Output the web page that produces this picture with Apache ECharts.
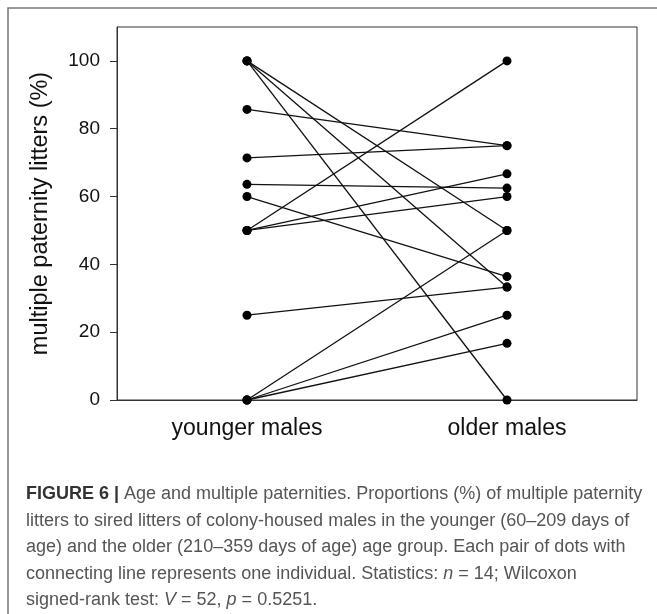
<!DOCTYPE html>
<html>
<head>
<meta charset="utf-8">
<script src="https://cdn.jsdelivr.net/npm/echarts@6/dist/echarts.min.js"></script>
<style>html,body{margin:0;padding:0;background:#fff;}#c{width:657px;height:614px;}</style>
</head>
<body>
<div id="c"></div>
<script>
// Data: each individual = one pair (younger value, older value)
const groups = ['younger males', 'older males'];
const groupPos = [1, 3];
const younger = [100, 100, 100, 85.7, 71.4, 63.6, 60, 50, 50, 50, 25, 0, 0, 0];
const older   = [50, 33.3, 0, 75, 75, 62.5, 36.4, 100, 66.7, 60, 33.3, 50, 25, 16.7];
const yTicks = [0, 20, 40, 60, 80, 100];

const chart = echarts.init(document.getElementById('c'), null, {renderer: 'canvas'});
const FONT = "'Liberation Sans', Arial, sans-serif";

const series = younger.map((y, i) => ({
  type: 'line',
  data: [[groupPos[0], y], [groupPos[1], older[i]]],
  symbol: 'circle',
  symbolSize: 9,
  itemStyle: {color: '#000'},
  lineStyle: {color: '#111', width: 1.3},
  animation: false,
  z: 3
}));

chart.setOption({
  animation: false,
  grid: {left: 117, top: 27, width: 520, height: 373, show: true, borderColor: '#333', borderWidth: 1, backgroundColor: 'transparent'},
  xAxis: {
    type: 'value', min: 0, max: 4,
    axisLine: {show: true, lineStyle: {color: '#333', width: 1}},
    axisTick: {show: false},
    splitLine: {show: false},
    axisLabel: {
      customValues: groupPos,
      formatter: v => groups[groupPos.indexOf(v)] || '',
      fontFamily: FONT, fontSize: 23, color: '#111', margin: 17
    }
  },
  yAxis: {
    type: 'value', min: 0, max: 110,
    name: 'multiple paternity litters (%)',
    nameLocation: 'middle', nameGap: 64,
    nameTextStyle: {fontFamily: FONT, fontSize: 23.5, color: '#111'},
    axisLine: {show: true, lineStyle: {color: '#333', width: 1}},
    axisTick: {show: true, inside: false, length: 7, customValues: yTicks, lineStyle: {color: '#333'}},
    splitLine: {show: false},
    axisLabel: {customValues: yTicks, fontFamily: FONT, fontSize: 19, color: '#111', margin: 17}
  },
  series: series,
  graphic: [
    {type: 'rect', shape: {x: 8, y: 8, width: 700, height: 700}, style: {fill: 'none', stroke: '#777', lineWidth: 1.5}, silent: true, z: 0},
    {
      type: 'text', left: 26, top: 481, z: 10,
      style: {
        text: '{b|FIGURE 6 |} Age and multiple paternities. Proportions (%) of multiple paternity\n' +
              'litters to sired litters of colony-housed males in the younger (60–209 days of\n' +
              'age) and the older (210–359 days of age) age group. Each pair of dots with\n' +
              'connecting line represents one individual. Statistics: {i|n} = 14; Wilcoxon\n' +
              'signed-rank test: {i|V} = 52, {i|p} = 0.5251.',
        font: "18px 'Liberation Sans', Arial, sans-serif",
        fill: '#555',
        lineHeight: 26.5,
        rich: {
          b: {fontWeight: 'bold', fill: '#333', fontSize: 18, fontFamily: FONT, lineHeight: 26.5},
          i: {fontStyle: 'italic', fill: '#555', fontSize: 18, fontFamily: FONT, lineHeight: 26.5}
        }
      }
    }
  ]
});
</script>
</body>
</html>
